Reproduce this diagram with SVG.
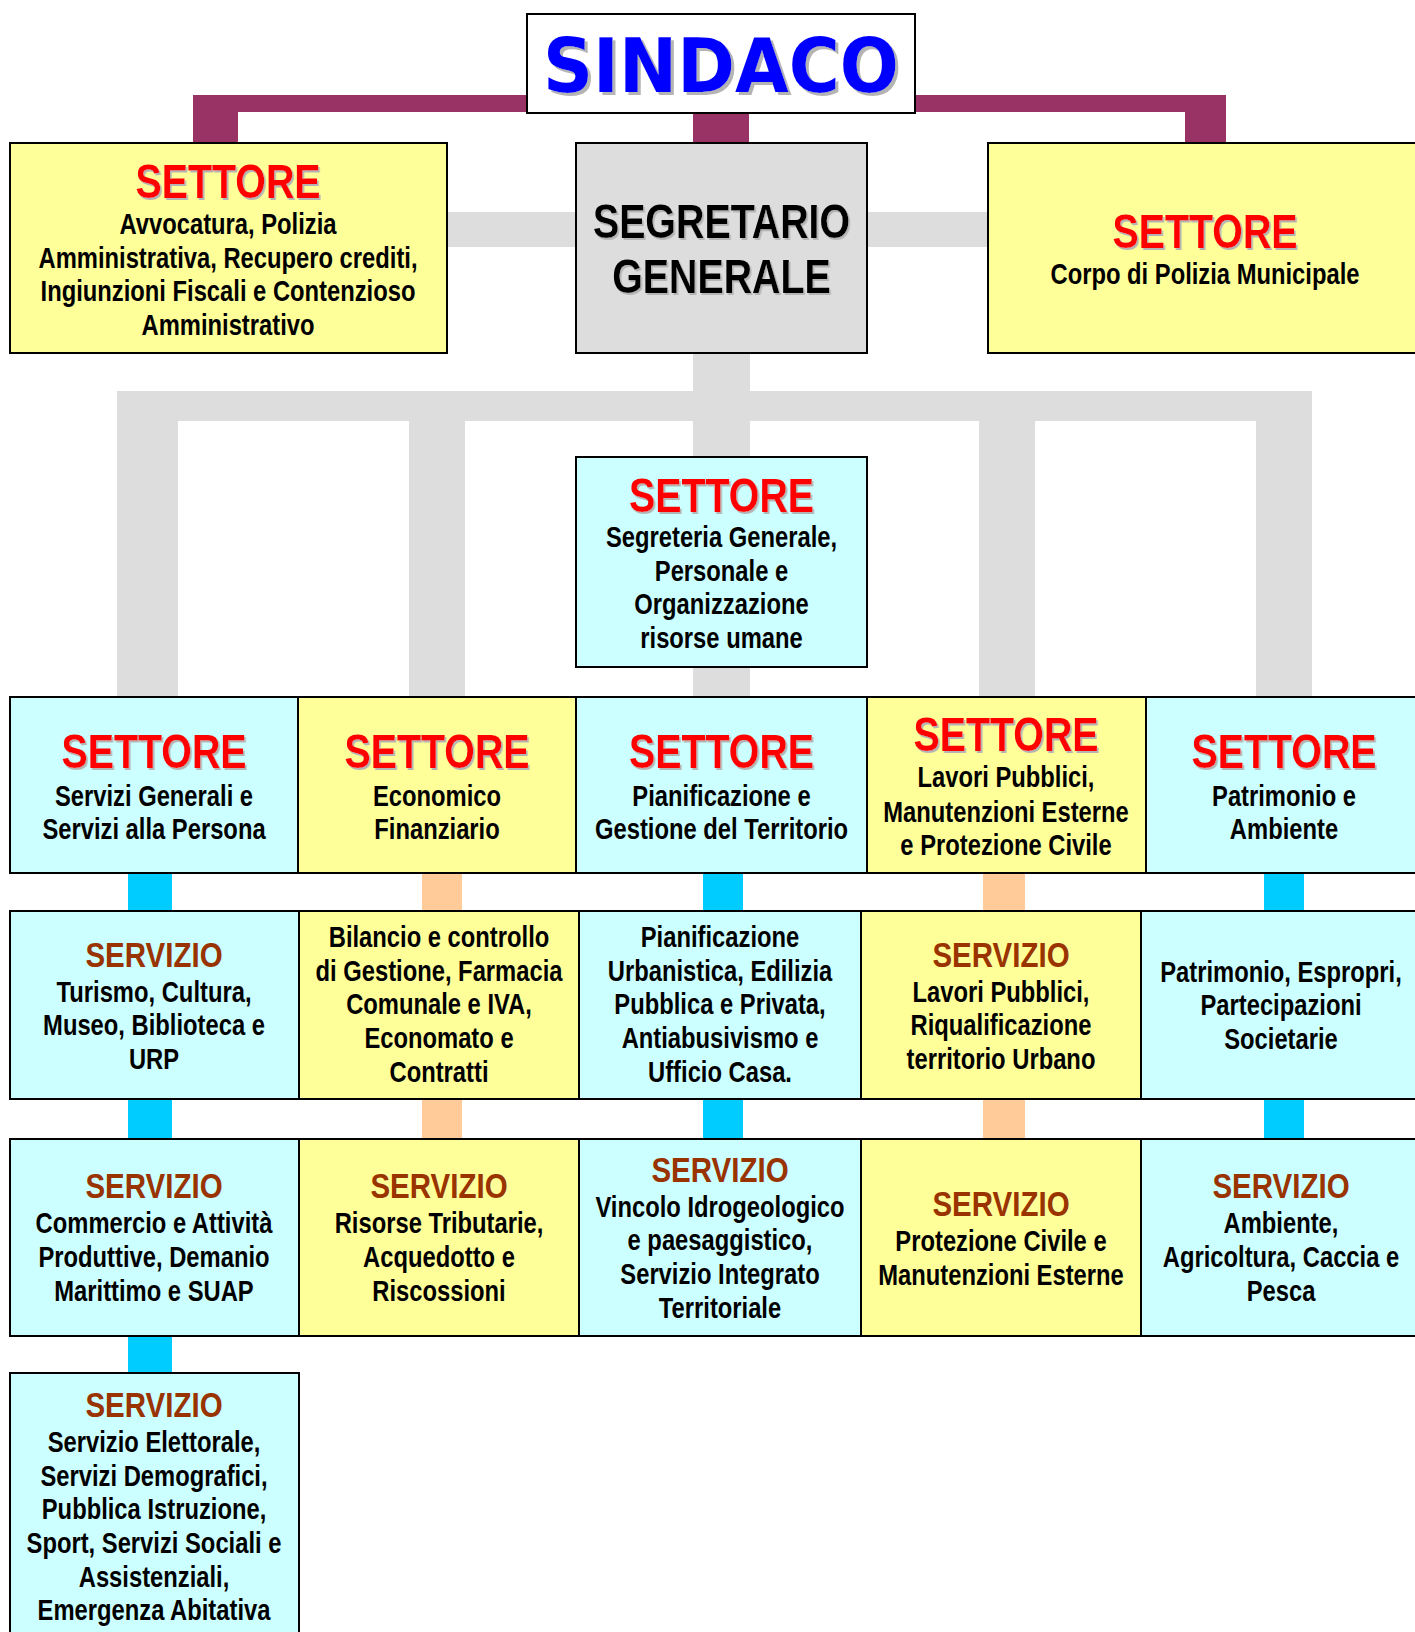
<svg xmlns="http://www.w3.org/2000/svg" width="1415" height="1632" viewBox="0 0 1415 1632">
<defs>
<filter id="sh" x="-5%" y="-5%" width="115%" height="130%">
<feDropShadow dx="2" dy="2" stdDeviation="0" flood-color="#b4b4b4" flood-opacity="1"/>
</filter>
<filter id="sh3" x="-5%" y="-5%" width="115%" height="130%">
<feDropShadow dx="3" dy="3" stdDeviation="0" flood-color="#b4b4b4" flood-opacity="1"/>
</filter>
</defs>
<style>
.box{stroke:#000;stroke-width:2}
.y{fill:#FFFF99}
.c{fill:#CCFFFF}
.g{fill:#DDDDDD}
.w{fill:#FFFFFF}
.t{font-family:"Liberation Sans",Arial,sans-serif;font-weight:bold;text-anchor:middle}
.h{font-size:48px;fill:#FF0000;filter:url(#sh)}
.k{font-size:48px;fill:#000000;filter:url(#sh)}
.b{font-size:29px;fill:#000000}
.s{font-size:36px;fill:#993300}
.cg{fill:#DDDDDD}
.cp{fill:#993366}
.cb{fill:#00CCFF}
.co{fill:#FFCC99}
</style>
<rect x="0" y="0" width="1415" height="1632" fill="#FFFFFF"/>
<g id="connectors">
<rect class="cp" x="193" y="95" width="1033" height="17"/>
<rect class="cp" x="193" y="95" width="45" height="48"/>
<rect class="cp" x="693" y="105" width="56" height="38"/>
<rect class="cp" x="1185" y="95" width="41" height="48"/>
<rect class="cg" x="440" y="212" width="555" height="35"/>
<rect class="cg" x="693" y="353" width="57" height="344"/>
<rect class="cg" x="117" y="391" width="1195" height="30"/>
<rect class="cg" x="117" y="391" width="61" height="306"/>
<rect class="cg" x="409" y="391" width="56" height="306"/>
<rect class="cg" x="979" y="391" width="56" height="306"/>
<rect class="cg" x="1256" y="391" width="56" height="306"/>
<rect class="cb" x="128" y="873" width="44" height="38"/>
<rect class="co" x="422" y="873" width="40" height="38"/>
<rect class="cb" x="703" y="873" width="40" height="38"/>
<rect class="co" x="983" y="873" width="42" height="38"/>
<rect class="cb" x="1264" y="873" width="40" height="38"/>
<rect class="cb" x="128" y="1099" width="44" height="40"/>
<rect class="co" x="422" y="1099" width="40" height="40"/>
<rect class="cb" x="703" y="1099" width="40" height="40"/>
<rect class="co" x="983" y="1099" width="42" height="40"/>
<rect class="cb" x="1264" y="1099" width="40" height="40"/>
<rect class="cb" x="128" y="1336" width="44" height="37"/>
</g>
<g id="sindaco">
<rect class="box w" x="527" y="14" width="388" height="99"/>
<text x="543" y="92" textLength="356" lengthAdjust="spacingAndGlyphs" font-family="DejaVu Sans, Verdana, sans-serif" font-weight="bold" font-size="75" fill="#0000FF" filter="url(#sh3)">SINDACO</text>
</g>
<g id="settore-avvocatura">
<rect class="box y" x="10" y="143" width="437" height="210"/>
<g transform="translate(228 0) scale(0.82 1)">
<text class="t h" x="0" y="198">SETTORE</text>
<text class="t b" x="0" y="234">Avvocatura, Polizia</text>
<text class="t b" x="0" y="268">Amministrativa, Recupero crediti,</text>
<text class="t b" x="0" y="301">Ingiunzioni Fiscali e Contenzioso</text>
<text class="t b" x="0" y="335">Amministrativo</text>
</g>
</g>
<g id="segretario">
<rect class="box g" x="576" y="143" width="291" height="210"/>
<g transform="translate(721.5 0) scale(0.82 1)">
<text class="t k" x="0" y="238">SEGRETARIO</text>
<text class="t k" x="0" y="293">GENERALE</text>
</g>
</g>
<g id="settore-polizia">
<rect class="box y" x="988" y="143" width="434" height="210"/>
<g transform="translate(1205 0) scale(0.82 1)">
<text class="t h" x="0" y="248">SETTORE</text>
<text class="t b" x="0" y="284">Corpo di Polizia Municipale</text>
</g>
</g>
<g id="settore-segreteria">
<rect class="box c" x="576" y="457" width="291" height="210"/>
<g transform="translate(721.5 0) scale(0.82 1)">
<text class="t h" x="0" y="512">SETTORE</text>
<text class="t b" x="0" y="547">Segreteria Generale,</text>
<text class="t b" x="0" y="581">Personale e</text>
<text class="t b" x="0" y="614">Organizzazione</text>
<text class="t b" x="0" y="648">risorse umane</text>
</g>
</g>
<g id="settore-servizi">
<rect class="box c" x="10" y="697" width="288" height="176"/>
<g transform="translate(154 0) scale(0.82 1)">
<text class="t h" x="0" y="768">SETTORE</text>
<text class="t b" x="0" y="806">Servizi Generali e</text>
<text class="t b" x="0" y="839">Servizi alla Persona</text>
</g>
</g>
<g id="settore-economico">
<rect class="box y" x="298" y="697" width="278" height="176"/>
<g transform="translate(437 0) scale(0.82 1)">
<text class="t h" x="0" y="768">SETTORE</text>
<text class="t b" x="0" y="806">Economico</text>
<text class="t b" x="0" y="839">Finanziario</text>
</g>
</g>
<g id="settore-pianificazione">
<rect class="box c" x="576" y="697" width="291" height="176"/>
<g transform="translate(721.5 0) scale(0.82 1)">
<text class="t h" x="0" y="768">SETTORE</text>
<text class="t b" x="0" y="806">Pianificazione e</text>
<text class="t b" x="0" y="839">Gestione del Territorio</text>
</g>
</g>
<g id="settore-lavori">
<rect class="box y" x="867" y="697" width="279" height="176"/>
<g transform="translate(1006 0) scale(0.82 1)">
<text class="t h" x="0" y="751">SETTORE</text>
<text class="t b" x="0" y="787">Lavori Pubblici,</text>
<text class="t b" x="0" y="822">Manutenzioni Esterne</text>
<text class="t b" x="0" y="855">e Protezione Civile</text>
</g>
</g>
<g id="settore-patrimonio">
<rect class="box c" x="1146" y="697" width="276" height="176"/>
<g transform="translate(1284 0) scale(0.82 1)">
<text class="t h" x="0" y="768">SETTORE</text>
<text class="t b" x="0" y="806">Patrimonio e</text>
<text class="t b" x="0" y="839">Ambiente</text>
</g>
</g>
<g id="servizio-turismo">
<rect class="box c" x="10" y="911" width="289" height="188"/>
<g transform="translate(154 0) scale(0.82 1)">
<text class="t s" x="0" y="967">SERVIZIO</text>
<text class="t b" x="0" y="1002">Turismo, Cultura,</text>
<text class="t b" x="0" y="1035">Museo, Biblioteca e</text>
<text class="t b" x="0" y="1069">URP</text>
</g>
</g>
<g id="servizio-bilancio">
<rect class="box y" x="299" y="911" width="280" height="188"/>
<g transform="translate(439 0) scale(0.82 1)">
<text class="t b" x="0" y="947">Bilancio e controllo</text>
<text class="t b" x="0" y="981">di Gestione, Farmacia</text>
<text class="t b" x="0" y="1014">Comunale e IVA,</text>
<text class="t b" x="0" y="1048">Economato e</text>
<text class="t b" x="0" y="1082">Contratti</text>
</g>
</g>
<g id="servizio-urbanistica">
<rect class="box c" x="579" y="911" width="282" height="188"/>
<g transform="translate(720 0) scale(0.82 1)">
<text class="t b" x="0" y="947">Pianificazione</text>
<text class="t b" x="0" y="981">Urbanistica, Edilizia</text>
<text class="t b" x="0" y="1014">Pubblica e Privata,</text>
<text class="t b" x="0" y="1048">Antiabusivismo e</text>
<text class="t b" x="0" y="1082">Ufficio Casa.</text>
</g>
</g>
<g id="servizio-lavori">
<rect class="box y" x="861" y="911" width="280" height="188"/>
<g transform="translate(1001 0) scale(0.82 1)">
<text class="t s" x="0" y="967">SERVIZIO</text>
<text class="t b" x="0" y="1002">Lavori Pubblici,</text>
<text class="t b" x="0" y="1035">Riqualificazione</text>
<text class="t b" x="0" y="1069">territorio Urbano</text>
</g>
</g>
<g id="servizio-patrimonio">
<rect class="box c" x="1141" y="911" width="281" height="188"/>
<g transform="translate(1281 0) scale(0.82 1)">
<text class="t b" x="0" y="982">Patrimonio, Espropri,</text>
<text class="t b" x="0" y="1015">Partecipazioni</text>
<text class="t b" x="0" y="1049">Societarie</text>
</g>
</g>
<g id="servizio-commercio">
<rect class="box c" x="10" y="1139" width="289" height="197"/>
<g transform="translate(154 0) scale(0.82 1)">
<text class="t s" x="0" y="1198">SERVIZIO</text>
<text class="t b" x="0" y="1233">Commercio e Attività</text>
<text class="t b" x="0" y="1267">Produttive, Demanio</text>
<text class="t b" x="0" y="1301">Marittimo e SUAP</text>
</g>
</g>
<g id="servizio-tributi">
<rect class="box y" x="299" y="1139" width="280" height="197"/>
<g transform="translate(439 0) scale(0.82 1)">
<text class="t s" x="0" y="1198">SERVIZIO</text>
<text class="t b" x="0" y="1233">Risorse Tributarie,</text>
<text class="t b" x="0" y="1267">Acquedotto e</text>
<text class="t b" x="0" y="1301">Riscossioni</text>
</g>
</g>
<g id="servizio-vincolo">
<rect class="box c" x="579" y="1139" width="282" height="197"/>
<g transform="translate(720 0) scale(0.82 1)">
<text class="t s" x="0" y="1182">SERVIZIO</text>
<text class="t b" x="0" y="1217">Vincolo Idrogeologico</text>
<text class="t b" x="0" y="1250">e paesaggistico,</text>
<text class="t b" x="0" y="1284">Servizio Integrato</text>
<text class="t b" x="0" y="1318">Territoriale</text>
</g>
</g>
<g id="servizio-protezione">
<rect class="box y" x="861" y="1139" width="280" height="197"/>
<g transform="translate(1001 0) scale(0.82 1)">
<text class="t s" x="0" y="1216">SERVIZIO</text>
<text class="t b" x="0" y="1251">Protezione Civile e</text>
<text class="t b" x="0" y="1285">Manutenzioni Esterne</text>
</g>
</g>
<g id="servizio-ambiente">
<rect class="box c" x="1141" y="1139" width="281" height="197"/>
<g transform="translate(1281 0) scale(0.82 1)">
<text class="t s" x="0" y="1198">SERVIZIO</text>
<text class="t b" x="0" y="1233">Ambiente,</text>
<text class="t b" x="0" y="1267">Agricoltura, Caccia e</text>
<text class="t b" x="0" y="1301">Pesca</text>
</g>
</g>
<g id="servizio-elettorale">
<rect class="box c" x="10" y="1373" width="289" height="270"/>
<g transform="translate(154 0) scale(0.82 1)">
<text class="t s" x="0" y="1417">SERVIZIO</text>
<text class="t b" x="0" y="1452">Servizio Elettorale,</text>
<text class="t b" x="0" y="1486">Servizi Demografici,</text>
<text class="t b" x="0" y="1519">Pubblica Istruzione,</text>
<text class="t b" x="0" y="1553">Sport, Servizi Sociali e</text>
<text class="t b" x="0" y="1587">Assistenziali,</text>
<text class="t b" x="0" y="1620">Emergenza Abitativa</text>
</g>
</g>
</svg>
